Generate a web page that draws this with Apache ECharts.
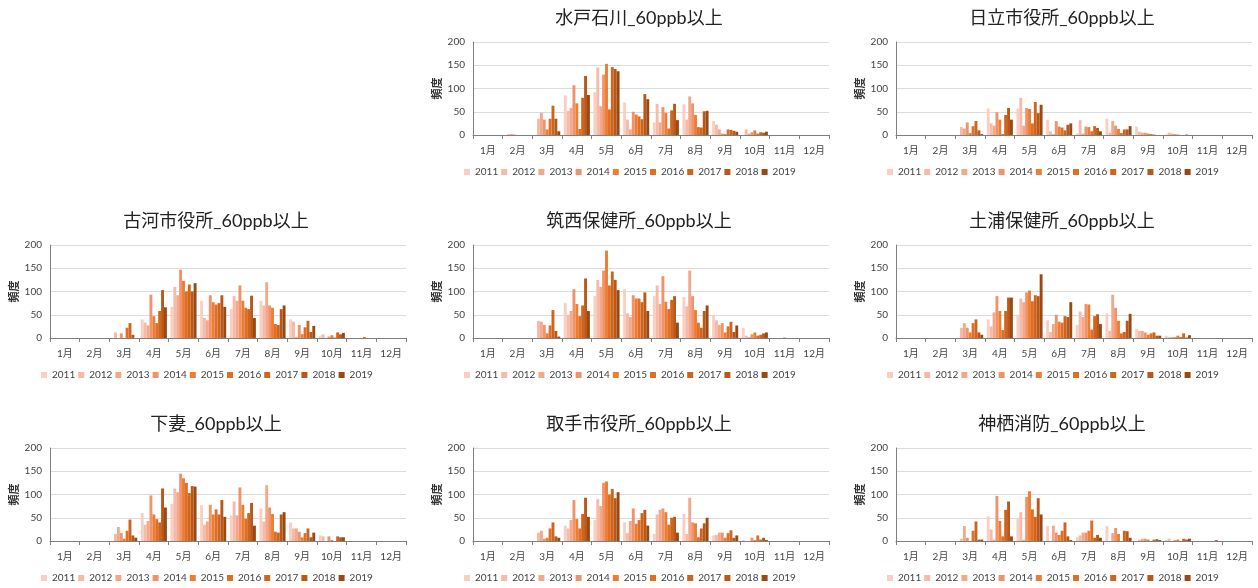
<!DOCTYPE html>
<html>
<head>
<meta charset="utf-8">
<script src="https://cdn.jsdelivr.net/npm/echarts@6/dist/echarts.min.js"></script>
<style>
  html, body { margin: 0; padding: 0; background: #fff; }
  #main { width: 1258px; height: 588px; }
</style>
</head>
<body>
<div id="main"></div>
<script>
// 月・年
var months = ['1月', '2月', '3月', '4月', '5月', '6月', '7月', '8月', '9月', '10月', '11月', '12月'];
var years = ['2011', '2012', '2013', '2014', '2015', '2016', '2017', '2018', '2019'];
var yTicks = [0, 50, 100, 150, 200];

// 各局: 月ごと (2011..2019)
var Z = [0, 0, 0, 0, 0, 0, 0, 0, 0];

var mitoIshikawa = [
    Z, [0, 2, 2, 1, 0, 0, 0, 0, 0],
    [0, 35, 48, 33, 12, 35, 63, 35, 8],
    [85, 52, 58, 107, 68, 13, 80, 127, 86],
    [92, 145, 62, 130, 153, 55, 146, 142, 137],
    [70, 33, 12, 50, 44, 40, 34, 88, 77],
    [27, 67, 27, 60, 48, 14, 53, 67, 32],
    [66, 33, 83, 68, 43, 17, 16, 51, 52],
    [30, 22, 12, 3, 2, 12, 11, 9, 7],
    [0, 12, 3, 6, 10, 3, 6, 5, 7],
    Z, Z
];
var hitachi = [
    Z, Z,
    [0, 17, 14, 27, 4, 19, 30, 10, 2],
    [57, 25, 20, 49, 33, 2, 43, 58, 33],
    [57, 80, 20, 58, 56, 25, 71, 47, 65],
    [33, 8, 2, 30, 18, 16, 10, 22, 25],
    [3, 32, 3, 18, 17, 8, 19, 15, 8],
    [35, 5, 30, 20, 13, 4, 12, 12, 19],
    [18, 7, 5, 5, 3, 2, 1, 0, 0],
    [1, 5, 3, 2, 1, 0, 0, 1, 0],
    Z, Z
];
var koga = [
    Z, Z,
    [0, 12, 0, 10, 0, 22, 32, 7, 0],
    [40, 33, 27, 93, 47, 32, 58, 103, 66],
    [67, 110, 92, 147, 123, 100, 115, 100, 118],
    [80, 43, 38, 92, 77, 72, 75, 92, 67],
    [63, 90, 80, 113, 80, 65, 62, 91, 43],
    [80, 70, 120, 70, 65, 30, 28, 62, 70],
    [40, 35, 2, 28, 8, 23, 37, 13, 26],
    [5, 8, 0, 3, 6, 1, 12, 8, 11],
    [0, 0, 0, 0, 0, 2, 0, 0, 0], Z
];
var chikusei = [
    Z, Z,
    [0, 37, 35, 28, 10, 27, 60, 15, 3],
    [75, 50, 58, 105, 73, 47, 70, 128, 58],
    [90, 125, 110, 145, 188, 113, 143, 125, 103],
    [105, 53, 45, 92, 85, 85, 77, 98, 58],
    [90, 113, 73, 133, 78, 62, 82, 90, 33],
    [88, 68, 145, 90, 60, 33, 22, 58, 70],
    [50, 38, 28, 32, 12, 25, 35, 13, 27],
    [22, 5, 2, 8, 12, 5, 7, 10, 12],
    [0, 0, 0, 0, 1, 0, 0, 0, 0], Z
];
var tsuchiura = [
    Z, Z,
    [0, 22, 32, 22, 12, 32, 40, 12, 7],
    [40, 25, 55, 90, 58, 17, 58, 87, 87],
    [50, 85, 77, 98, 102, 79, 92, 90, 137],
    [38, 13, 30, 50, 35, 33, 47, 45, 77],
    [28, 57, 45, 73, 72, 18, 47, 51, 30],
    [53, 15, 93, 65, 37, 10, 13, 37, 52],
    [20, 15, 15, 12, 7, 10, 12, 5, 5],
    [5, 2, 2, 2, 5, 2, 10, 1, 6],
    Z, Z
];
var shimotsuma = [
    Z, Z,
    [0, 15, 30, 17, 5, 22, 46, 12, 7],
    [60, 35, 43, 98, 57, 47, 40, 113, 72],
    [80, 113, 105, 145, 135, 125, 103, 118, 117],
    [77, 35, 42, 78, 57, 68, 57, 88, 52],
    [55, 85, 55, 115, 78, 48, 60, 82, 33],
    [70, 42, 120, 72, 58, 20, 18, 57, 62],
    [40, 27, 27, 20, 8, 17, 27, 8, 18],
    [12, 10, 0, 10, 2, 0, 10, 8, 8],
    Z, Z
];
var toride = [
    Z, Z,
    [0, 18, 22, 5, 7, 27, 40, 10, 7],
    [33, 27, 45, 88, 47, 27, 58, 93, 52],
    [45, 90, 75, 125, 128, 100, 112, 92, 105],
    [40, 17, 43, 70, 37, 45, 60, 67, 33],
    [15, 57, 67, 70, 62, 35, 50, 52, 18],
    [58, 15, 93, 40, 38, 8, 27, 38, 50],
    [12, 13, 18, 18, 7, 17, 23, 7, 12],
    [2, 0, 0, 7, 2, 12, 3, 7, 2],
    Z, Z
];
var kamisu = [
    Z, Z,
    [0, 5, 32, 7, 0, 22, 42, 3, 3],
    [53, 25, 3, 97, 43, 10, 67, 85, 10],
    [50, 62, 3, 95, 107, 68, 52, 92, 57],
    [32, 0, 33, 18, 13, 22, 40, 10, 2],
    [8, 12, 18, 18, 22, 44, 7, 13, 7],
    [32, 0, 17, 28, 15, 0, 22, 21, 7],
    [0, 3, 5, 5, 3, 0, 3, 4, 2],
    [2, 5, 0, 2, 3, 0, 5, 3, 5],
    [0, 0, 0, 0, 0, 0, 0, 2, 0], Z
];

var colors = ['#f8cfc2', '#f6bba6', '#f3a88a', '#f0926a', '#ed7d31', '#e06f25', '#cf641d', '#b95818', '#9c4812'];

var stations = [
    { name: '水戸石川_60ppb以上', data: mitoIshikawa, col: 1, row: 0 },
    { name: '日立市役所_60ppb以上', data: hitachi, col: 2, row: 0 },
    { name: '古河市役所_60ppb以上', data: koga, col: 0, row: 1 },
    { name: '筑西保健所_60ppb以上', data: chikusei, col: 1, row: 1 },
    { name: '土浦保健所_60ppb以上', data: tsuchiura, col: 2, row: 1 },
    { name: '下妻_60ppb以上', data: shimotsuma, col: 0, row: 2 },
    { name: '取手市役所_60ppb以上', data: toride, col: 1, row: 2 },
    { name: '神栖消防_60ppb以上', data: kamisu, col: 2, row: 2 }
];

var colLeft = [50, 473, 896];
var rowTop = [42, 245, 448];
var gridW = 356, gridH = 93;
var font = 'Lato, "Noto Sans CJK JP", sans-serif';

var option = {
    animation: false,
    backgroundColor: '#fff',
    color: colors,
    title: [], legend: [], grid: [], xAxis: [], yAxis: [], series: []
};

stations.forEach(function (st, i) {
    var left = colLeft[st.col], top = rowTop[st.row];
    option.title.push({
        text: st.name,
        left: left + 166, top: top - 33, textAlign: 'center', padding: 0,
        textStyle: { fontSize: 18, fontWeight: 'normal', color: '#222', fontFamily: font }
    });
    option.grid.push({ left: left, top: top, width: gridW, height: gridH, containLabel: false });
    option.legend.push({
        data: years, left: left - 9, top: top + 125, padding: 0,
        itemWidth: 6, itemHeight: 6, itemGap: 3, icon: 'rect',
        textStyle: { fontSize: 10, color: '#444', fontFamily: font },
        selectedMode: false
    });
    option.xAxis.push({
        type: 'category', gridIndex: i, data: months,
        axisLine: { lineStyle: { color: '#7f7f7f' } },
        axisTick: { show: true, length: 4, lineStyle: { color: '#7f7f7f' } },
        axisLabel: { fontSize: 10, color: '#444', margin: 11, fontFamily: font, interval: 0 }
    });
    option.yAxis.push({
        type: 'value', gridIndex: i, min: 0, max: 200, interval: 50,
        name: '頻度', nameLocation: 'middle', nameGap: 30, nameRotate: 90,
        nameTextStyle: { fontSize: 11, color: '#333', fontWeight: 'bold', fontFamily: font },
        axisLine: { show: true, lineStyle: { color: '#7f7f7f' } },
        axisTick: { show: false },
        axisLabel: {
            fontSize: 10, color: '#444', fontFamily: font,
            formatter: function (v) { return yTicks.indexOf(v) >= 0 ? String(v) : ''; }
        },
        splitLine: { lineStyle: { color: '#dcdcdc' } }
    });
    years.forEach(function (y, k) {
        option.series.push({
            name: y, type: 'bar', xAxisIndex: i, yAxisIndex: i,
            barGap: '0%', barCategoryGap: '12%',
            itemStyle: { color: colors[k] },
            data: st.data.map(function (m) { return m[k]; })
        });
    });
});

var chart = echarts.init(document.getElementById('main'));
chart.setOption(option);
</script>
</body>
</html>
